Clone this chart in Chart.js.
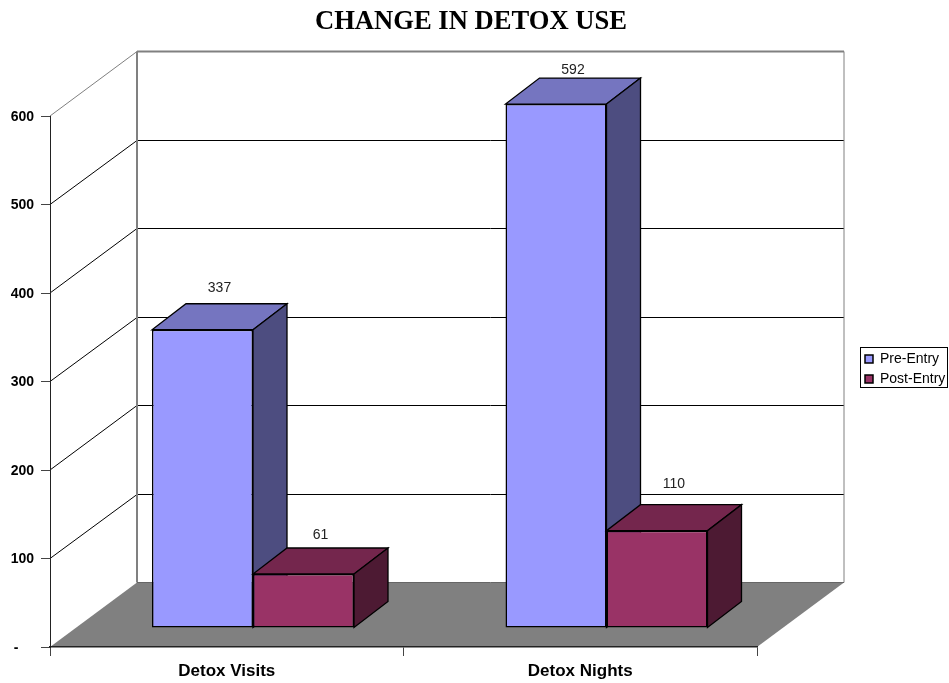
<!DOCTYPE html>
<html>
<head>
<meta charset="utf-8">
<title>Change in Detox Use</title>
<style>
  html, body { margin: 0; background: #fff; }
  canvas { display: block; }
</style>
</head>
<body>
<canvas id="chart" width="949" height="683"></canvas>
<script src="https://cdn.jsdelivr.net/npm/chart.js@4/dist/chart.umd.min.js"></script>
<script>
const categories = ['Detox Visits', 'Detox Nights'];
const preEntry = [337, 592];
const postEntry = [61, 110];
const yTicks = [0, 100, 200, 300, 400, 500, 600];

const FONT = '"Liberation Sans", Arial, sans-serif';
const WALL = { dx: 87, dy: -64.5 };  // how far the back wall sits behind the axis plane
const SLOT = { dx: 26.25, dy: -19 }; // where the bars stand on the floor
const BOX = { dx: 34, dy: -26 };     // depth of each bar
const LEGEND = { left: 860, top: 347, width: 88, height: 41 };

const FACES = [
  { front: '#9999ff', top: '#7575c0', side: '#4d4d80' },
  { front: '#993366', top: '#74264d', side: '#4d1a33' },
];
// space between each bar's back top edge and its value, per series then category
const labelLift = [[16, 8], [13, 21]];

function poly(ctx, pts, fill, stroke, width = 1) {
  ctx.beginPath();
  pts.forEach(([x, y], i) => (i ? ctx.lineTo(x, y) : ctx.moveTo(x, y)));
  ctx.closePath();
  if (fill) { ctx.fillStyle = fill; ctx.fill(); }
  if (stroke) { ctx.strokeStyle = stroke; ctx.lineWidth = width; ctx.stroke(); }
}

function line(ctx, x1, y1, x2, y2, color, width = 1) {
  ctx.beginPath();
  ctx.moveTo(x1, y1);
  ctx.lineTo(x2, y2);
  ctx.strokeStyle = color;
  ctx.lineWidth = width;
  ctx.stroke();
}

/* Walls, floor and the 3D sides of the bars. Chart.js draws the front faces. */
const box3d = {
  id: 'box3d',
  afterLayout(chart) {
    // title centred a little left of the canvas, legend parked right of the plot
    chart.titleBlock.left = 0;
    chart.titleBlock.right = 942;
    const lg = chart.legend;
    lg.left = LEGEND.left - 1;
    lg.right = LEGEND.left + LEGEND.width;
    lg.top = LEGEND.top - 1;
    lg.bottom = LEGEND.top + LEGEND.height + 40; // room so the items stay in one column
  },
  beforeDraw(chart) {
    const { ctx, chartArea: a, scales: { y } } = chart;
    const { dx, dy } = WALL;
    ctx.save();
    ctx.fillStyle = '#fff';
    ctx.fillRect(0, 0, chart.width, chart.height);

    yTicks.forEach((v) => {
      if (v === 0) return;
      const py = y.getPixelForValue(v);
      const wy = Math.floor(py + dy) + 0.5; // keep the wall lines on a pixel row
      const color = v === 600 ? '#808080' : '#000';
      line(ctx, a.left, py, a.left + dx, wy, color);
      line(ctx, a.left + dx, wy, a.right + dx, wy, color, v === 600 ? 2 : 1);
    });
    const top = y.getPixelForValue(600) + dy;
    const base = a.bottom + dy;
    line(ctx, a.left + dx, top, a.left + dx, base, '#808080', 2);
    line(ctx, a.right + dx, top, a.right + dx, base, '#808080');

    poly(ctx, [[a.left, a.bottom], [a.right, a.bottom], [a.right + dx, base], [a.left + dx, base]], '#808080');
    line(ctx, a.left + dx, base, a.right + dx, base, '#666');
    ctx.restore();
  },
  // series go back to front so the second one's front face hides the first one's side
  beforeDatasetsDraw(chart) {
    const { ctx } = chart;
    const { dx, dy } = BOX;
    ctx.save();
    ctx.translate(SLOT.dx, SLOT.dy);
    chart.data.datasets.forEach((ds, s) => {
      const meta = chart.getDatasetMeta(s);
      meta.data.forEach((bar) => {
        const l = bar.x - bar.width / 2;
        const r = bar.x + bar.width / 2;
        poly(ctx, [[l, bar.y], [r, bar.y], [r + dx, bar.y + dy], [l + dx, bar.y + dy]], FACES[s].top, '#000', 1.3);
        poly(ctx, [[r, bar.y], [r, bar.base], [r + dx, bar.base + dy], [r + dx, bar.y + dy]], FACES[s].side, '#000', 1.3);
      });
      meta.controller.draw();
    });
    ctx.restore();
  },
  beforeDatasetDraw() {
    return false; // already drawn above
  },
  afterDatasetsDraw(chart) {
    const { ctx } = chart;
    ctx.save();
    ctx.font = '14px ' + FONT;
    ctx.fillStyle = '#222';
    ctx.textAlign = 'center';
    ctx.textBaseline = 'middle';
    chart.data.datasets.forEach((ds, s) => {
      chart.getDatasetMeta(s).data.forEach((bar, i) => {
        const x = bar.x + SLOT.dx + BOX.dx / 2;
        const yy = bar.y + SLOT.dy + BOX.dy - labelLift[s][i];
        ctx.fillText(String(ds.data[i]), x, yy);
      });
    });
    ctx.restore();
  },
  afterDraw(chart) {
    const { ctx } = chart;
    ctx.save();
    ctx.strokeStyle = '#000';
    ctx.lineWidth = 1;
    ctx.strokeRect(LEGEND.left + 0.5, LEGEND.top + 0.5, LEGEND.width - 1, LEGEND.height - 1);
    ctx.restore();
  },
};

new Chart(document.getElementById('chart'), {
  type: 'bar',
  plugins: [box3d],
  data: {
    labels: categories,
    datasets: [
      { label: 'Pre-Entry', data: preEntry, backgroundColor: FACES[0].front, borderColor: '#000', borderWidth: 1.5, borderSkipped: false, clip: false },
      { label: 'Post-Entry', data: postEntry, backgroundColor: FACES[1].front, borderColor: '#000', borderWidth: 1.5, borderSkipped: false, clip: false },
    ],
  },
  options: {
    responsive: false,
    animation: false,
    layout: { padding: { top: 0, right: 192, bottom: 0, left: 0 } },
    datasets: { bar: { barPercentage: 1, categoryPercentage: 0.57143 } },
    plugins: {
      tooltip: { enabled: false },
      title: {
        display: true,
        text: 'CHANGE IN DETOX USE',
        color: '#000',
        font: { family: '"Liberation Serif", "Times New Roman", serif', size: 26.6, weight: 'bold', lineHeight: 1.2 },
        padding: { top: 6.4, bottom: 77.68 },
      },
      legend: {
        position: 'chartArea',
        align: 'start',
        labels: {
          boxWidth: 8,
          boxHeight: 8,
          padding: 6,
          color: '#000',
          font: { family: FONT, size: 14, lineHeight: 1.15 },
        },
      },
    },
    scales: {
      x: {
        afterFit(scale) { scale.height = 36; },
        border: { display: true, color: '#222', width: 1.5 },
        grid: { drawOnChartArea: false, drawTicks: true, tickLength: 9, color: '#444' },
        ticks: { color: '#000', padding: 5, font: { family: FONT, size: 17, weight: 'bold' }, maxRotation: 0 },
      },
      y: {
        min: 0,
        max: 600,
        afterFit(scale) { scale.width = 50; },
        border: { display: true, color: '#222' },
        grid: { drawOnChartArea: false, drawTicks: true, tickLength: 9, color: '#444' },
        ticks: {
          stepSize: 100,
          color: '#000',
          padding: 7,
          labelOffset: 1,
          font: { family: FONT, size: 14, weight: 'bold' },
          callback: (v) => (v === 0 ? '-    ' : v),
        },
      },
    },
  },
});
</script>
</body>
</html>
